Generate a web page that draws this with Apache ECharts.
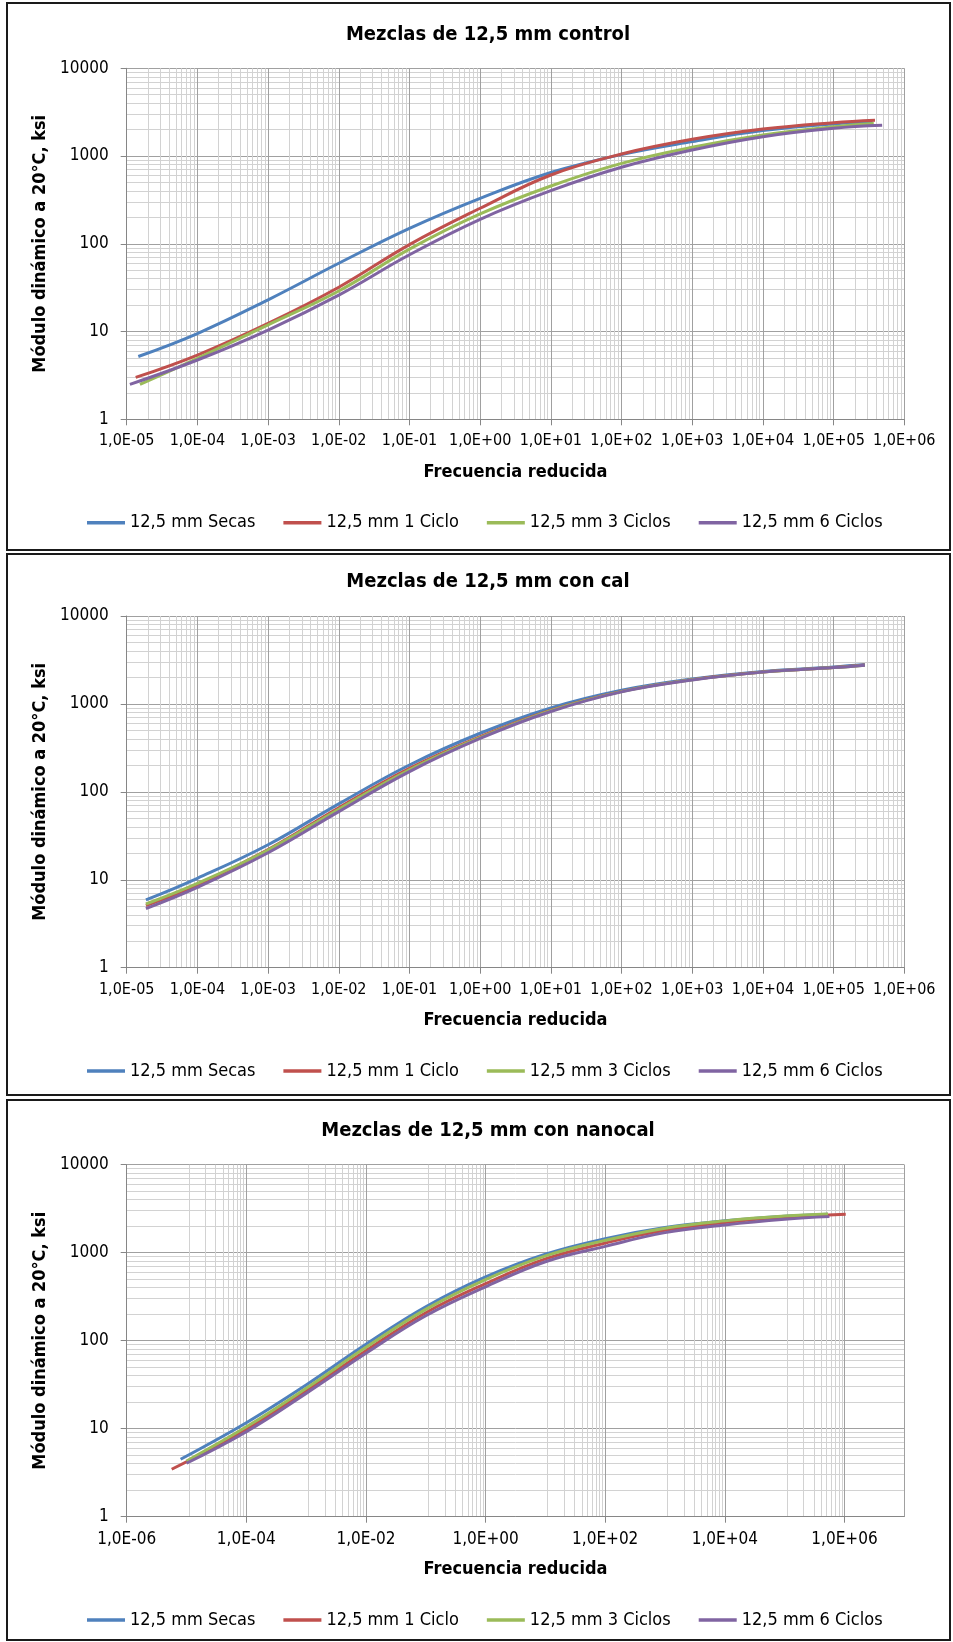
<!DOCTYPE html>
<html><head><meta charset="utf-8">
<script src="https://cdn.jsdelivr.net/npm/echarts@6/dist/echarts.min.js"></script>
<style>html,body{margin:0;padding:0;background:#fff}#c{width:953px;height:1642px}</style>
</head><body><div id="c"></div>
<script>
// ---------- text ----------
const seriesNames = ['12,5 mm Secas', '12,5 mm 1 Ciclo', '12,5 mm 3 Ciclos', '12,5 mm 6 Ciclos'];
const panelTitles = ['Mezclas de 12,5 mm control', 'Mezclas de 12,5 mm con cal', 'Mezclas de 12,5 mm con nanocal'];
const yAxisTitle = 'Módulo dinámico a 20°C, ksi';
const xAxisTitle = 'Frecuencia reducida';
const yTickValues = [1, 10, 100, 1000, 10000];

// ---------- Panel 1: control ----------
const ctrlSecasF = [1.46e-5, 1e-4, 1e-3, 1e-2, 1e-1, 1, 10, 100, 1e3, 1e4, 1e5, 3.55e5];
const ctrlSecasE = [5.2, 9.5, 23, 60, 150, 330, 650, 1040, 1460, 1950, 2320, 2420];
const ctrl1F = [1.34e-5, 1e-4, 1e-3, 1e-2, 1e-1, 1, 10, 100, 1e3, 1e4, 1e5, 3.85e5];
const ctrl1E = [3.0, 5.4, 12.4, 32, 98, 254, 608, 1055, 1550, 2030, 2400, 2555];
const ctrl3F = [1.54e-5, 1e-4, 1e-3, 1e-2, 1e-1, 1, 10, 100, 1e3, 1e4, 1e5, 3.7e5];
const ctrl3E = [2.5, 4.96, 11.9, 29, 87, 219, 456, 826, 1259, 1738, 2160, 2350];
const ctrl6F = [1.11e-5, 1e-4, 1e-3, 1e-2, 1e-1, 1, 10, 100, 1e3, 1e4, 1e5, 4.86e5];
const ctrl6E = [2.5, 4.74, 10.4, 26, 75, 190, 403, 745, 1172, 1660, 2070, 2240];

// ---------- Panel 2: con cal ----------
const calSecasF = [1.87e-5, 1e-4, 1e-3, 1e-2, 1e-1, 1, 10, 100, 1e3, 1e4, 1e5, 2.77e5];
const calSecasE = [5.9, 10.4, 25, 73, 202, 464, 900, 1430, 1920, 2340, 2630, 2800];
const cal1F = [1.87e-5, 1e-4, 1e-3, 1e-2, 1e-1, 1, 10, 100, 1e3, 1e4, 1e5, 2.77e5];
const cal1E = [5.1, 8.7, 22, 66, 185, 425, 850, 1390, 1890, 2310, 2600, 2770];
const cal3F = [1.87e-5, 1e-4, 1e-3, 1e-2, 1e-1, 1, 10, 100, 1e3, 1e4, 1e5, 2.77e5];
const cal3E = [5.3, 9.1, 21.8, 63.5, 178, 415, 840, 1380, 1880, 2300, 2590, 2760];
const cal6F = [1.87e-5, 1e-4, 1e-3, 1e-2, 1e-1, 1, 10, 100, 1e3, 1e4, 1e5, 2.77e5];
const cal6E = [4.7, 8.2, 20.3, 59.6, 170, 405, 820, 1370, 1870, 2300, 2590, 2760];

// ---------- Panel 3: con nanocal ----------
const nanoSecasF = [7.97e-6, 1e-4, 1e-3, 1e-2, 1e-1, 1, 10, 100, 1e3, 1e4, 1e5, 5.3e5];
const nanoSecasE = [4.5, 11.7, 31.4, 91, 243, 530, 960, 1440, 1930, 2300, 2590, 2740];
const nano1F = [5.65e-6, 1e-4, 1e-3, 1e-2, 1e-1, 1, 10, 100, 1e3, 1e4, 1e5, 1.05e6];
const nano1E = [3.46, 9.8, 27, 77, 208, 445, 850, 1290, 1800, 2200, 2520, 2730];
const nano3F = [1.0e-5, 1e-4, 1e-3, 1e-2, 1e-1, 1, 10, 100, 1e3, 1e4, 1e5, 5.3e5];
const nano3E = [4.3, 10.5, 28.8, 84, 227, 495, 920, 1380, 1900, 2300, 2610, 2750];
const nano6F = [1.0e-5, 1e-4, 1e-3, 1e-2, 1e-1, 1, 10, 100, 1e3, 1e4, 1e5, 5.6e5];
const nano6E = [4.05, 9.25, 25.2, 72, 192, 410, 790, 1180, 1690, 2070, 2400, 2570];

// x-axis ranges (reduced frequency)
const xMins = [1e-5, 1e-5, 1e-6];
const xMaxs = [1e6, 1e6, 1e7];
const xIntervals = [1, 1, 2];      // in decades
const xMinorSplits = [9, 9, 10];

// ---------- styling / layout ----------
const FONT = 'DejaVu Sans Condensed, DejaVu Sans, sans-serif';
const colors = ['#4F81BD', '#C0504D', '#9BBB59', '#8064A2'];
const plotLeft = 126.7, plotWidth = 777.6;
const plotTops = [68.3, 616, 1164.7];
const plotHeights = [351, 351.7, 352];
const xLabelSizes = [16, 16, 17];
const panelRects = [[7, 3, 943, 547], [7, 554, 943, 541], [7, 1100, 943, 540]];

const panels = [
  {F: [ctrlSecasF, ctrl1F, ctrl3F, ctrl6F], E: [ctrlSecasE, ctrl1E, ctrl3E, ctrl6E]},
  {F: [calSecasF, cal1F, cal3F, cal6F], E: [calSecasE, cal1E, cal3E, cal6E]},
  {F: [nanoSecasF, nano1F, nano3F, nano6F], E: [nanoSecasE, nano1E, nano3E, nano6E]}
];

function sciLabel(v) {
  const e = Math.round(Math.log10(v));
  return '1,0E' + (e < 0 ? '-' : '+') + String(Math.abs(e)).padStart(2, '0');
}

const AXIS_GRAY = '#868686';
const MAJOR = '#a0a0a0';
const MINOR = '#d2d2d2';

const grids = [], xAxes = [], yAxes = [], series = [], titles = [], legends = [];
for (let i = 0; i < 3; i++) {
  grids.push({left: plotLeft, top: plotTops[i], width: plotWidth, height: plotHeights[i],
    containLabel: false, outerBoundsMode: 'none'});
  xAxes.push({
    type: 'log', logBase: 10, gridIndex: i, min: xMins[i], max: xMaxs[i], interval: xIntervals[i],
    name: xAxisTitle, nameLocation: 'middle', nameGap: 44,
    nameTextStyle: {fontFamily: FONT, fontSize: 18, fontWeight: 'bold', color: '#000'},
    axisLine: {show: true, lineStyle: {color: AXIS_GRAY, width: 1}},
    axisTick: {show: true, length: 6, inside: false, lineStyle: {color: AXIS_GRAY}},
    axisLabel: {show: true, margin: 14, fontFamily: FONT, fontSize: xLabelSizes[i], color: '#000',
      formatter: sciLabel, showMaxLabel: i !== 2, hideOverlap: false},
    splitLine: {show: true, lineStyle: {color: MAJOR, width: 1}},
    minorTick: {show: false, splitNumber: xMinorSplits[i]},
    minorSplitLine: {show: true, lineStyle: {color: MINOR, width: 1}}
  });
  yAxes.push({
    type: 'log', logBase: 10, gridIndex: i, min: yTickValues[0], max: yTickValues[yTickValues.length - 1], interval: 1,
    name: yAxisTitle, nameLocation: 'middle', nameGap: 73,
    nameTextStyle: {fontFamily: FONT, fontSize: 18, fontWeight: 'bold', color: '#000'},
    axisLine: {show: true, lineStyle: {color: AXIS_GRAY, width: 1}},
    axisTick: {show: true, length: 6, inside: false, lineStyle: {color: AXIS_GRAY}},
    axisLabel: {show: true, margin: 18, fontFamily: FONT, fontSize: 17, color: '#000',
      formatter: v => String(Math.round(v))},
    splitLine: {show: true, lineStyle: {color: MAJOR, width: 1}},
    minorTick: {show: false, splitNumber: 9},
    minorSplitLine: {show: true, lineStyle: {color: MINOR, width: 1}}
  });
  titles.push({text: panelTitles[i], left: 483, textAlign: 'center', top: plotTops[i] - 49,
    textStyle: {fontFamily: FONT, fontSize: 20, fontWeight: 'bold', color: '#000'}});
  legends.push({data: seriesNames, left: 82, top: plotTops[i] + plotHeights[i] + 103.4 - 14,
    itemWidth: 38, itemHeight: 3.5, itemGap: 28, icon: 'rect',
    textStyle: {fontFamily: FONT, fontSize: 18, color: '#000'}});
  for (let j = 0; j < 4; j++) {
    const F = panels[i].F[j], E = panels[i].E[j];
    series.push({
      type: 'line', name: seriesNames[j], xAxisIndex: i, yAxisIndex: i,
      data: F.map((f, k) => [f, E[k]]),
      smooth: 0.4, symbol: 'none', showSymbol: false,
      lineStyle: {width: 3, color: colors[j]}, itemStyle: {color: colors[j]}
    });
  }
}

const chart = echarts.init(document.getElementById('c'), null, {renderer: 'canvas', width: 953, height: 1642});
chart.setOption({
  animation: false,
  backgroundColor: '#ffffff',
  color: colors,
  textStyle: {fontFamily: FONT},
  title: titles,
  legend: legends,
  grid: grids,
  xAxis: xAxes,
  yAxis: yAxes,
  series: series,
  graphic: panelRects.map(r => ({type: 'rect', silent: true, z: 100,
    shape: {x: r[0], y: r[1], width: r[2], height: r[3]},
    style: {fill: 'none', stroke: '#1a1a1a', lineWidth: 2}}))
});
</script></body></html>
